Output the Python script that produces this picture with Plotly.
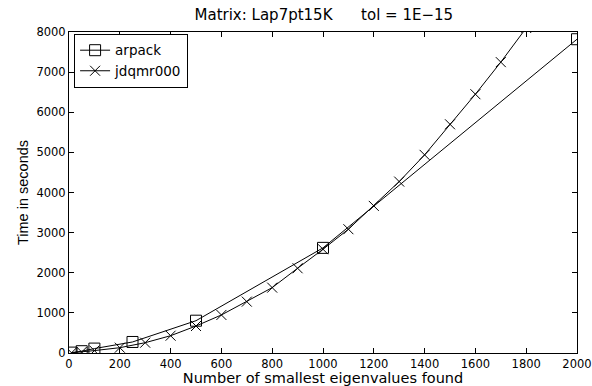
import plotly.graph_objects as go

# Timings for computing the smallest eigenvalues of Lap7pt15K
arpack_nev = [10, 50, 100, 250, 500, 1000, 2000]
arpack_time = [10, 45, 110, 275, 805, 2620, 7820]

jdqmr_nev = [10, 50, 100, 200, 300, 400, 500, 600, 700, 800, 900,
             1000, 1100, 1200, 1300, 1400, 1500, 1600, 1700, 1800]
jdqmr_time = [5, 25, 60, 132, 257, 431, 673, 948, 1280, 1629, 2112,
              2586, 3085, 3666, 4272, 4938, 5700, 6450, 7249, 8100]

x_ticks = list(range(0, 2001, 200))
y_ticks = list(range(0, 8001, 1000))

wide = "DejaVu Sans, Verdana, sans-serif"
narrow = "Liberation Sans, Arial, Helvetica, sans-serif"

fig = go.Figure()
fig.add_trace(go.Scatter(
    x=arpack_nev, y=arpack_time, name="arpack", mode="lines+markers",
    line=dict(color="black", width=1),
    marker=dict(symbol="square-open", size=11, color="black", line=dict(width=1)),
    cliponaxis=True,
))
fig.add_trace(go.Scatter(
    x=jdqmr_nev, y=jdqmr_time, name="jdqmr000", mode="lines+markers",
    line=dict(color="black", width=1),
    marker=dict(symbol="x-thin-open", size=10, color="black", line=dict(width=1, color="black")),
    cliponaxis=True,
))

axis_common = dict(
    showgrid=False, zeroline=False, showline=True, linecolor="black", linewidth=1,
    mirror="allticks", ticks="inside", ticklen=5, tickwidth=1, tickcolor="black",
    tickfont=dict(family=wide, size=11.5, color="black"), automargin=False,
    ticklabeloverflow="allow",
)

fig.update_layout(
    width=592, height=386,
    margin=dict(l=69, r=15, t=32, b=33),
    paper_bgcolor="white", plot_bgcolor="white",
    showlegend=True,
    title=dict(text="Matrix: Lap7pt15K      tol = 1E\u221215", x=0.547, xanchor="center",
               y=0.963, yanchor="middle",
               font=dict(family=wide, size=15, color="black")),
    legend=dict(x=0.01, y=0.994, xanchor="left", yanchor="top",
                bgcolor="white", bordercolor="black", borderwidth=1,
                font=dict(family=wide, size=13.5, color="black"),
                itemwidth=30, tracegroupgap=0),
    xaxis=dict(range=[0, 2000], tickvals=x_ticks,
               title=dict(text="Number of smallest eigenvalues found", standoff=0,
                          font=dict(family=wide, size=14.5, color="black")),
               **axis_common),
    yaxis=dict(range=[0, 8000], tickvals=y_ticks,
               title=dict(text="Time in seconds", standoff=4,
                          font=dict(family=narrow, size=14.5, color="black")),
               **axis_common),
)

fig.write_html("out.html")
